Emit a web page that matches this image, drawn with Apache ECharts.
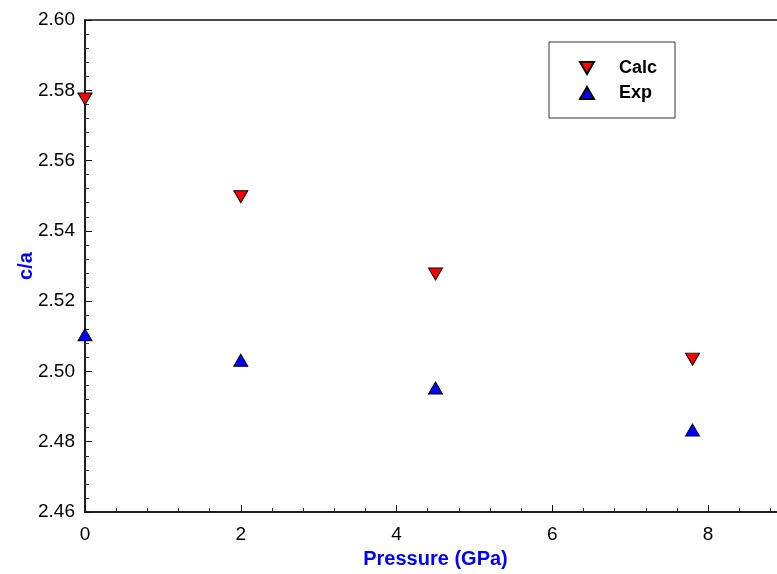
<!DOCTYPE html>
<html>
<head>
<meta charset="utf-8">
<script src="https://cdn.jsdelivr.net/npm/echarts@6/dist/echarts.min.js"></script>
<style>
  html, body { margin: 0; padding: 0; background: #fff; }
  #chart { width: 777px; height: 574px; }
</style>
</head>
<body>
<div id="chart"></div>
<script>
const pressure = [0, 2, 4.5, 7.8];
const calcValues = [2.5775, 2.5497, 2.5277, 2.5035];
const expValues = [2.5104, 2.5032, 2.4953, 2.4833];

const downTriangle = 'path://M0,0 L20,0 L10,17 Z';
const font = 'Arial, "Liberation Sans", sans-serif';

const chart = echarts.init(document.getElementById('chart'));

const option = {
  animation: false,
  grid: {
    left: 85,
    top: 20,
    width: 701,
    height: 492,
    outerBoundsMode: 'none',
    containLabel: false,
    show: true,
    borderColor: '#111',
    borderWidth: 1.5,
    backgroundColor: 'transparent'
  },
  legend: {
    orient: 'vertical',
    left: 549,
    top: 42,
    padding: [17, 18, 16, 30],
    borderColor: '#333',
    borderWidth: 1,
    itemWidth: 14,
    itemHeight: 12,
    itemGap: 7,
    textStyle: {
      fontFamily: font,
      fontSize: 18,
      fontWeight: 'bold',
      color: '#000',
      lineHeight: 18,
      padding: [0, 0, 0, 20]
    },
    data: ['Calc', 'Exp']
  },
  xAxis: {
    type: 'value',
    min: 0,
    max: 9,
    interval: 2,
    name: 'Pressure (GPa)',
    nameLocation: 'middle',
    nameGap: 37,
    nameTextStyle: {
      fontFamily: font,
      fontSize: 20,
      fontWeight: 'bold',
      color: '#0000ff'
    },
    axisLine: { onZero: false, lineStyle: { color: '#111', width: 1.5 } },
    axisTick: { inside: true, length: 7, lineStyle: { color: '#111' } },
    minorTick: { show: true, splitNumber: 5, length: 4, lineStyle: { color: '#333' } },
    splitLine: { show: false },
    axisLabel: {
      fontFamily: font,
      fontSize: 19,
      color: '#000',
      margin: 13,
      showMaxLabel: false
    }
  },
  yAxis: {
    type: 'value',
    min: 2.46,
    max: 2.60,
    interval: 0.02,
    name: 'c/a',
    nameLocation: 'middle',
    nameGap: 49,
    nameMoveOverlap: false,
    nameTextStyle: {
      fontFamily: font,
      fontSize: 20,
      fontWeight: 'bold',
      color: '#0000ff'
    },
    axisLine: { onZero: false, lineStyle: { color: '#111', width: 1.5 } },
    axisTick: { inside: true, length: 7, lineStyle: { color: '#111' } },
    minorTick: { show: true, splitNumber: 5, length: 4, lineStyle: { color: '#333' } },
    splitLine: { show: false },
    axisLabel: {
      fontFamily: font,
      fontSize: 19,
      color: '#000',
      margin: 10,
      formatter: v => v.toFixed(2)
    }
  },
  series: [
    {
      name: 'Calc',
      type: 'scatter',
      symbol: downTriangle,
      symbolSize: [14, 12],
      itemStyle: { color: '#ff0000', borderColor: '#000', borderWidth: 1, opacity: 1 },
      data: pressure.map((p, i) => [p, calcValues[i]])
    },
    {
      name: 'Exp',
      type: 'scatter',
      symbol: 'triangle',
      symbolSize: [14, 12],
      itemStyle: { color: '#0000ff', borderColor: '#000', borderWidth: 1, opacity: 1 },
      data: pressure.map((p, i) => [p, expValues[i]])
    }
  ]
};

chart.setOption(option);
</script>
</body>
</html>
